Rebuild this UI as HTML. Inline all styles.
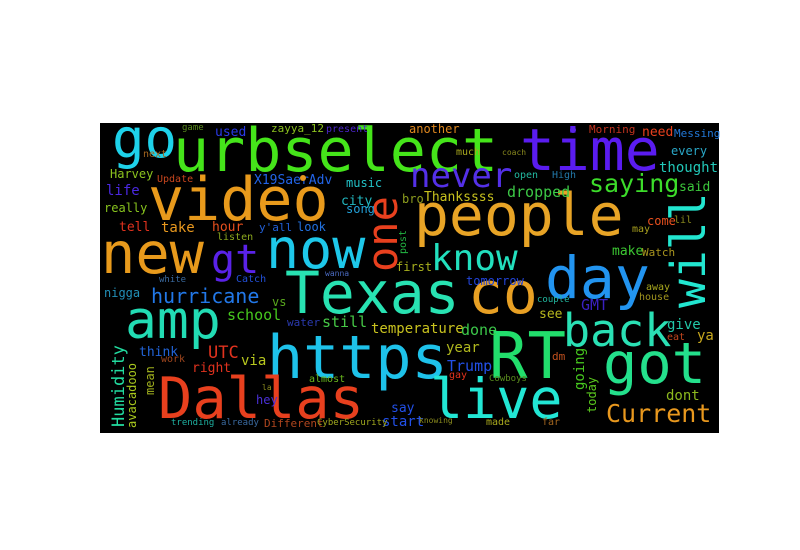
<!DOCTYPE html>
<html><head><meta charset="utf-8"><style>
html,body{margin:0;padding:0;background:#fff;width:800px;height:550px;overflow:hidden}
svg{display:block}
text{font-family:"DejaVu Sans Mono","Liberation Mono",monospace}
</style></head><body>
<svg width="800" height="550" viewBox="0 0 800 550">
<rect x="100" y="123" width="619" height="310" fill="#000"/>
<g id="words"></g>
</svg>
<script>
const words = ["urbselect","time","video","go","new","now","gt","one","people","never","know","saying","will","day","Texas","co","amp","https","RT","got","Dallas","live","back","Current",
"used","zayya_12","present","game","Harvey","next","Update","X19SaerAdv","music","life","city","song","really","tell","take","hour","y'all","look","listen","post","wanna",
"another","Morning","need","Messing","much","coach","every","thought","open","High","said","Thankssss","bro","dropped","come","lil","may","make","Watch","first","tomorrow",
"white","Catch","nigga","hurricane","vs","school","water","still","temperature","think","UTC","via","work","right","Humidity","avacadooo","mean","almost","la","hey","say","start","trending","already","Different","CyberSecurity",
"couple","GMT","see","away","house","done","give","eat","ya","year","dm","going","today","Trump","gay","Cowboys","dont","made","far","knowing"];
const sizes = [60,58,60,54,57,55,40,42,58,34,36,25,48,58,58,58,53,60,64,57,57,55,45,25,
13,11,10,9,12,10,10,13,12,14,13,12,12,13,14,13,11,12,10,10,8,
12,11,13,11,10,8,12,14,10,10,13,13,12,15,12,10,10,13,11,12,12,
9,10,12,20,12,15,11,15,14,13,17,14,10,13,17,12,12,10,8,12,13,14,9,9,11,9,
9,15,13,10,10,15,14,10,14,14,11,14,12,15,10,9,14,10,10,8];
const colors = ["#45e41a","#5a1cf0","#e89a1c","#1ed2ea","#e89a1c","#1ec8ea","#5a22e8","#e8401e","#e8a426","#5430e8","#22e0be","#3cdc2a","#22e6d0","#2294f0","#28e2b2","#e8a024","#22dcb4","#1ec2ea","#22de6c","#24e08c","#e8401e","#22e6d4","#2ae0b4","#e8981e",
"#2a3ae8","#8cc21e","#4a24c8","#5a8c1e","#8cc41e","#a0641e","#c8461e","#2264e8","#22c2c8","#4a28e0","#22b8c0","#22a0d8","#88c41e","#e0321e","#e8981e","#e8501e","#2260d8","#2272e0","#8ca81e","#22b442","#4a6ac0",
"#e0881e","#c0321e","#e8401e","#2278d8","#a8a81e","#88881e","#2aa8c8","#22c8b8","#22b8a0","#2278a8","#3cc83c","#c8c21e","#8c9c1e","#3cc846","#e8501e","#8c8c1e","#a8a01e","#3cc832","#a8941e","#a8b01e","#2244d8",
"#3a6aa0","#2250d8","#2290b8","#2278e8","#5aa81e","#46c81e","#2a3ab0","#46c846","#c8c21e","#2264d8","#e0321e","#b8c81e","#a0461e","#e0321e","#22dca0","#a8c81e","#a0b01e","#6ab81e","#8c8c1e","#4a30d8","#2250e8","#2250e8","#1eb0a0","#3a6aa0","#b0461e","#a0a81e",
"#22b8a0","#3a20c0","#b8b81e","#a8a81e","#a0941e","#3cc84a","#22c8a8","#c0461e","#c8a81e","#b0b81e","#c0501e","#46c81e","#5ac81e","#2250e8","#e0321e","#5a8c1e","#8cb81e","#a8a81e","#a0641e","#8c8c1e"];
const xs = [173,520,148,112,101,266,211,397,414,410,431,589,705,545,285,468,125,267,489,603,158,430,563,606,
215,271,326,182,110,143,157,254,346,106,341,346,104,119,161,212,259,297,217,406,325,
409,589,642,674,456,502,671,659,514,552,679,424,402,507,647,674,632,612,642,396,466,
159,236,104,151,272,227,287,322,371,139,208,241,161,192,124,136,154,309,262,256,391,382,171,221,264,317,
537,581,539,646,639,461,667,667,697,446,552,584,596,447,449,489,666,486,542,419];
const ys = [171,170,220,157,273,268,273,272,235,187,270,192,308,298,313,313,338,378,378,383,418,418,346,422,
136,132,132,130,178,157,182,184,187,195,205,213,212,231,232,231,231,231,240,254,276,
133,133,136,137,155,155,155,172,178,178,191,201,203,197,225,223,232,255,256,271,285,
282,282,297,303,306,320,326,327,333,356,358,365,362,372,427,428,395,382,390,404,412,426,425,425,427,425,
302,310,318,290,300,335,329,340,340,352,360,390,413,371,378,381,400,425,425,423];
const rot = ["post","one","will","Humidity","avacadooo","mean","going","today"];
const g = document.getElementById('words');
for (let i = 0; i < words.length; i++) {
  const t = document.createElementNS('http://www.w3.org/2000/svg','text');
  t.setAttribute('x', xs[i]);
  t.setAttribute('y', ys[i]);
  t.setAttribute('font-size', sizes[i]);
  t.setAttribute('fill', colors[i]);
  if (rot.includes(words[i])) t.setAttribute('transform', 'rotate(-90 ' + xs[i] + ' ' + ys[i] + ')');
  t.textContent = words[i];
  
  
  g.appendChild(t);
}
const dot1 = document.createElementNS('http://www.w3.org/2000/svg','circle');
dot1.setAttribute('cx', 303); dot1.setAttribute('cy', 178); dot1.setAttribute('r', 3); dot1.setAttribute('fill', '#e8981e');


g.appendChild(dot1);
const dot2 = document.createElementNS('http://www.w3.org/2000/svg','circle');
dot2.setAttribute('cx', 573); dot2.setAttribute('cy', 130); dot2.setAttribute('r', 3); dot2.setAttribute('fill', '#5a22e8');


g.appendChild(dot2);
</script>
</body></html>
